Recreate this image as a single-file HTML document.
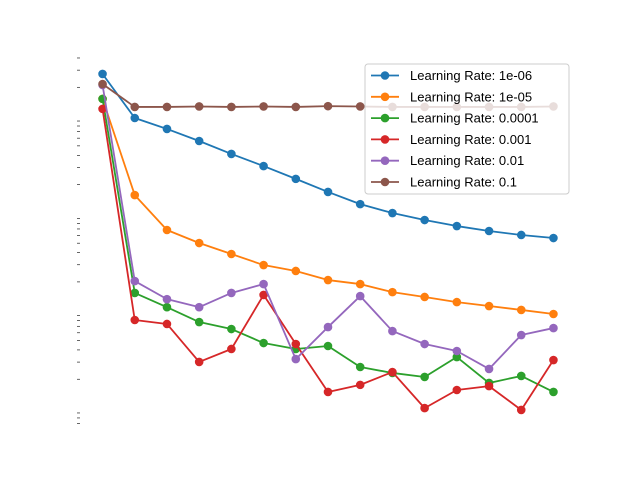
<!DOCTYPE html>
<html><head><meta charset="utf-8"><style>
html,body{margin:0;padding:0;background:#fff;}
svg{display:block;font-family:"Liberation Sans","DejaVu Sans",sans-serif;}
</style></head><body>
<svg id="chart" width="640" height="480" viewBox="0 0 640 480">
<rect width="640" height="480" fill="#fff"/>
<g id="ticks"></g>
<g id="series"></g>
<g id="legend"></g>
</svg>
<script>
const xIndex = [0,1,2,3,4,5,6,7,8,9,10,11,12,13,14];
const seriesLabels = ["Learning Rate: 1e-06","Learning Rate: 1e-05","Learning Rate: 0.0001","Learning Rate: 0.001","Learning Rate: 0.01","Learning Rate: 0.1"];
const seriesColors = ["#1f77b4","#ff7f0e","#2ca02c","#d62728","#9467bd","#8c564b"];
const lr1e6 = [2.74,0.967,0.746,0.561,0.413,0.310,0.229,0.168,0.126,0.102,0.0865,0.075,0.0667,0.0607,0.0565];
const lr1e5 = [1.52,0.156,0.0683,0.0502,0.0387,0.0298,0.0259,0.0209,0.0190,0.0157,0.0140,0.0124,0.0113,0.0103,0.00936];
const lr1e4 = [1.52,0.0154,0.0110,0.00774,0.00656,0.00471,0.00409,0.00439,0.00267,0.00232,0.00211,0.00338,0.00183,0.00216,0.00148];
const lr1e3 = [1.20,0.00812,0.00739,0.00301,0.00409,0.0147,0.00460,0.00148,0.00175,0.00237,0.00101,0.00155,0.00170,0.000966,0.00315];
const lr1e2 = [2.11,0.0204,0.0133,0.0110,0.0154,0.0190,0.00322,0.00687,0.0143,0.00625,0.00460,0.00390,0.00255,0.00569,0.00671];
const lr1e1 = [2.16,1.256,1.256,1.27,1.256,1.27,1.256,1.28,1.27,1.256,1.256,1.256,1.256,1.256,1.27];
const allSeries = [lr1e6,lr1e5,lr1e4,lr1e3,lr1e2,lr1e1];

const NS="http://www.w3.org/2000/svg";
const L=80,R=576,T=57.6,B=427.2;
const xMin=-0.7,xMax=14.7;
const yTopLog=0.606,yBotLog=-3.192;
function xs(i){return L+(i-xMin)/(xMax-xMin)*(R-L);}
function ys(v){return T+(yTopLog-Math.log10(v))/(yTopLog-yBotLog)*(B-T);}
function mk(tag,attrs,parent){const e=document.createElementNS(NS,tag);for(const k in attrs)e.setAttribute(k,attrs[k]);parent.appendChild(e);return e;}

// minor ticks
const tg=document.getElementById('ticks');
for(let d=-4;d<=1;d++){for(let m=2;m<=9;m++){const v=m*Math.pow(10,d);const y=ys(v);if(y<T-0.5||y>B+0.5)continue;
 const t=mk('line',{x1:77,x2:80,y1:y,y2:y,stroke:'#000','stroke-width':0.6},tg);
 
 }}

const sg=document.getElementById('series');
allSeries.forEach((arr,si)=>{
 const g=mk('g',{},sg);
 
 
 const pts=arr.map((v,i)=>xs(xIndex[i]).toFixed(2)+','+ys(v).toFixed(2)).join(' ');
 const pl=mk('polyline',{points:pts,fill:'none',stroke:seriesColors[si],'stroke-width':1.8,'stroke-linejoin':'round'},g);
 
 
 arr.forEach((v,i)=>{const c=mk('circle',{cx:xs(xIndex[i]),cy:ys(v),r:4.3,fill:seriesColors[si]},g);
  
  });
});

const lg=document.getElementById('legend');
const box=mk('rect',{x:365,y:64,width:204,height:130,rx:3,fill:'#fff','fill-opacity':0.8,stroke:'#cccccc','stroke-width':1},lg);


seriesLabels.forEach((lab,i)=>{
 const y=75.5+i*21.3;
 const g=mk('g',{},lg);
 
 
 mk('line',{x1:371,x2:399,y1:y,y2:y,stroke:seriesColors[i],'stroke-width':1.8},g);
 mk('circle',{cx:385,cy:y,r:4.3,fill:seriesColors[i]},g);
 const t=mk('text',{x:410,y:y+4.5,'font-size':13,fill:'#000'},g);
 t.textContent=lab;
 
 
});
</script>
</body></html>
